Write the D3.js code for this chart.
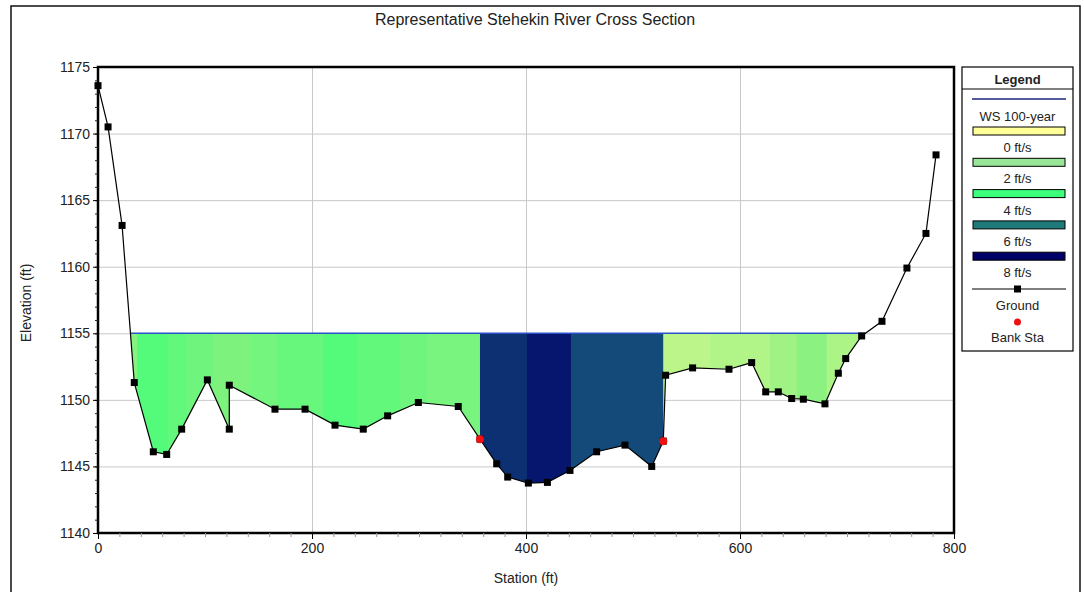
<!DOCTYPE html>
<html>
<head>
<meta charset="utf-8">
<script src="https://cdn.jsdelivr.net/npm/d3@7"></script>
<style>
  body { margin: 0; background: #fff; }
  text { font-family: "Liberation Sans", Arial, sans-serif; fill: #222; }
</style>
</head>
<body>
<svg id="chart" width="1084" height="592"></svg>
<script>
// ground profile (station ft, elevation ft)
var groundSta = [0, 9.4, 22.5, 33.9, 51.7, 64.2, 78.2, 102.2, 122.7, 122.7, 165.4, 193.5, 221.5, 247.9,
  270.7, 299.4, 336.7, 357, 372.6, 382.9, 402.2, 420, 441.1, 466, 492.5, 517.5, 528.3, 530.5,
  555.7, 589.7, 610.9, 624, 635.8, 648.3, 659.2, 679.4, 691.9, 698.8, 713.7, 732.7, 756, 773.8, 783.2];
var groundElev = [1173.6, 1170.5, 1163.1, 1151.3, 1146.1, 1145.9, 1147.8, 1151.5, 1147.8, 1151.1,
  1149.3, 1149.3, 1148.1, 1147.8, 1148.8, 1149.8, 1149.5, 1147.05, 1145.2, 1144.2, 1143.75, 1143.8,
  1144.7, 1146.1, 1146.6, 1145.0, 1146.9, 1151.85, 1152.4, 1152.3, 1152.8, 1150.6, 1150.6, 1150.1,
  1150.05, 1149.7, 1152.0, 1153.1, 1154.8, 1155.9, 1159.9, 1162.5, 1168.4];
var bankSta = [357, 528.3];
var wsElev = 1155.0;
var wsName = "WS 100-year";

// velocity distribution slices (edges in station ft, velocity ft/s)
var sliceEdges = [29.9, 36.4, 65.4, 83.2, 107.5, 142, 167.3, 210.3, 242.1, 282.2, 307.5, 357,
  400.9, 442, 528.3, 572, 628, 653, 681, 716.8];
var sliceVel = [2.2, 3.3, 3.0, 2.7, 2.4, 2.6, 2.9, 3.3, 3.0, 2.7, 2.5,
  7.1, 7.6, 6.6,
  1.2, 1.4, 1.7, 2.1, 1.5];

var legendVel = [0, 2, 4, 6, 8];
var xTicks = [0, 200, 400, 600, 800];
var yTicks = [1140, 1145, 1150, 1155, 1160, 1165, 1170, 1175];

var svg = d3.select("#chart");

var x = d3.scaleLinear().domain([0, 800]).range([98, 954]);
var y = d3.scaleLinear().domain([1140, 1175]).range([533, 67]);

var velColor = d3.scaleLinear().domain(legendVel)
  .range(["#ffff99", "#90f080", "#33ff77", "#1d6a80", "#000068"]);
var legendColor = d3.scaleOrdinal().domain(legendVel)
  .range(["#ffff99", "#99e699", "#3cff7c", "#1f7a7a", "#000066"]);

// outer frame
svg.append("rect")
  .attr("x", 11).attr("y", 6).attr("width", 1069).attr("height", 600)
  .attr("fill", "none").attr("stroke", "#111").attr("stroke-width", 1.5);

svg.append("text")
  .attr("x", 535).attr("y", 25)
  .attr("text-anchor", "middle")
  .style("font-size", "16px")
  .text("Representative Stehekin River Cross Section");

// grid
var grid = svg.append("g").attr("stroke", "#c8c8c8").attr("stroke-width", 1);
grid.selectAll("line.h").data(yTicks.slice(1, -1)).enter().append("line")
  .attr("x1", x(0)).attr("x2", x(800))
  .attr("y1", function(d) { return y(d) + 0.5; })
  .attr("y2", function(d) { return y(d) + 0.5; });
grid.selectAll("line.v").data(xTicks.slice(1, -1)).enter().append("line")
  .attr("y1", y(1140)).attr("y2", y(1175))
  .attr("x1", function(d) { return Math.round(x(d)) + 0.5; })
  .attr("x2", function(d) { return Math.round(x(d)) + 0.5; });

// ground points with water-surface crossings added
var ground = groundSta.map(function(s, i) { return { sta: s, elev: groundElev[i] }; });
var wetPts = [];
ground.forEach(function(p, i) {
  wetPts.push(p);
  var q = ground[i + 1];
  if (q && (p.elev - wsElev) * (q.elev - wsElev) < 0) {
    var t = (wsElev - p.elev) / (q.elev - p.elev);
    wetPts.push({ sta: p.sta + t * (q.sta - p.sta), elev: wsElev });
  }
});
var wetEdge = wetPts.filter(function(p) { return p.elev <= wsElev; });
var wsFrom = d3.min(wetEdge, function(p) { return p.sta; });
var wsTo = d3.max(wetEdge, function(p) { return p.sta; });

var waterArea = d3.area()
  .x(function(p) { return x(p.sta); })
  .y0(y(wsElev))
  .y1(function(p) { return y(Math.min(p.elev, wsElev)); });

svg.append("clipPath").attr("id", "water")
  .append("path").attr("d", waterArea(wetPts));

// velocity slices
svg.append("g").attr("clip-path", "url(#water)")
  .selectAll("rect").data(sliceVel).enter().append("rect")
  .attr("x", function(d, i) { return x(sliceEdges[i]); })
  .attr("width", function(d, i) { return x(sliceEdges[i + 1]) - x(sliceEdges[i]) + 0.5; })
  .attr("y", y(wsElev))
  .attr("height", y(1140) - y(wsElev))
  .attr("fill", function(d) { return velColor(d); });

// water surface
svg.append("line")
  .attr("x1", x(wsFrom)).attr("x2", x(wsTo))
  .attr("y1", y(wsElev)).attr("y2", y(wsElev))
  .attr("stroke", "#2a52c8").attr("stroke-width", 1.5);

// ground line + markers
svg.append("path")
  .attr("d", d3.line().x(function(p) { return x(p.sta); }).y(function(p) { return y(p.elev); })(ground))
  .attr("fill", "none").attr("stroke", "#000").attr("stroke-width", 1.2);
svg.append("g").selectAll("rect").data(ground).enter().append("rect")
  .attr("x", function(p) { return x(p.sta) - 3.5; })
  .attr("y", function(p) { return y(p.elev) - 3.5; })
  .attr("width", 7).attr("height", 7).attr("fill", "#000");

// bank stations
var bankElevAt = d3.scaleLinear().domain(groundSta.slice(16, 28)).range(groundElev.slice(16, 28));
svg.append("g").selectAll("circle").data(bankSta).enter().append("circle")
  .attr("cx", function(s) { return x(s); })
  .attr("cy", function(s) { return y(groundElev[groundSta.indexOf(s)]); })
  .attr("r", 4).attr("fill", "#ee1111");

// plot frame
svg.append("rect")
  .attr("x", x(0)).attr("y", y(1175))
  .attr("width", x(800) - x(0)).attr("height", y(1140) - y(1175))
  .attr("fill", "none").attr("stroke", "#000").attr("stroke-width", 2.5);

// axes
var yMinor = svg.append("g").attr("transform", "translate(" + x(0) + ",0)")
  .call(d3.axisLeft(y).tickValues(d3.range(1140, 1176, 1)).tickSize(3).tickFormat(""));
var yAxis = svg.append("g").attr("transform", "translate(" + x(0) + ",0)")
  .call(d3.axisLeft(y).tickValues(yTicks).tickSize(5).tickPadding(3).tickFormat(d3.format("d")));
var xMinor = svg.append("g").attr("transform", "translate(0," + y(1140) + ")")
  .call(d3.axisBottom(x).tickValues(d3.range(0, 801, 20)).tickSize(4).tickFormat(""));
var xAxis = svg.append("g").attr("transform", "translate(0," + y(1140) + ")")
  .call(d3.axisBottom(x).tickValues(xTicks).tickSize(6).tickPadding(4));
[yMinor, yAxis, xMinor, xAxis].forEach(function(g) { g.select(".domain").remove(); });
xMinor.selectAll("line").attr("stroke", "#999");
yMinor.selectAll("line").attr("stroke", "#222");
[yAxis, xAxis].forEach(function(g) {
  g.selectAll("text").style("font-size", "14px").style("font-family", null).attr("fill", null);
});

svg.append("text")
  .attr("x", x(400)).attr("y", 583)
  .attr("text-anchor", "middle").style("font-size", "14px")
  .text("Station (ft)");
svg.append("text")
  .attr("transform", "translate(31,303) rotate(-90)")
  .attr("text-anchor", "middle").style("font-size", "14px")
  .text("Elevation (ft)");

// legend
var lg = svg.append("g").attr("transform", "translate(962,67)");
var lw = 111, cx = lw / 2;
lg.append("rect").attr("width", lw).attr("height", 284)
  .attr("fill", "#fff").attr("stroke", "#000").attr("stroke-width", 1.2);
lg.append("line").attr("x1", 0).attr("x2", lw).attr("y1", 22).attr("y2", 22)
  .attr("stroke", "#000").attr("stroke-width", 1.2);
lg.append("text").attr("x", cx).attr("y", 17).attr("text-anchor", "middle")
  .style("font-size", "13px").style("font-weight", "bold").text("Legend");

lg.append("line").attr("x1", 10).attr("x2", 104).attr("y1", 32).attr("y2", 32)
  .attr("stroke", "#1a237e").attr("stroke-width", 1.5);
lg.append("text").attr("x", cx).attr("y", 54).attr("text-anchor", "middle")
  .style("font-size", "13px").text(wsName);

var item = lg.selectAll("g.vel").data(legendVel).enter().append("g")
  .attr("transform", function(d, i) { return "translate(0," + (60 + i * 31.3) + ")"; });
item.append("rect").attr("x", 11).attr("y", 0).attr("width", 92).attr("height", 8)
  .attr("fill", function(d) { return legendColor(d); })
  .attr("stroke", "#000").attr("stroke-width", 1);
item.append("text").attr("x", cx).attr("y", 25).attr("text-anchor", "middle")
  .style("font-size", "13px").text(function(d) { return d + " ft/s"; });

lg.append("line").attr("x1", 10).attr("x2", 104).attr("y1", 222).attr("y2", 222)
  .attr("stroke", "#000").attr("stroke-width", 1.2);
lg.append("rect").attr("x", cx - 3.5).attr("y", 218.5).attr("width", 7).attr("height", 7).attr("fill", "#000");
lg.append("text").attr("x", cx).attr("y", 243).attr("text-anchor", "middle")
  .style("font-size", "13px").text("Ground");
lg.append("circle").attr("cx", cx).attr("cy", 255).attr("r", 3.5).attr("fill", "#ee1111");
lg.append("text").attr("x", cx).attr("y", 275).attr("text-anchor", "middle")
  .style("font-size", "13px").text("Bank Sta");
</script>
</body>
</html>
